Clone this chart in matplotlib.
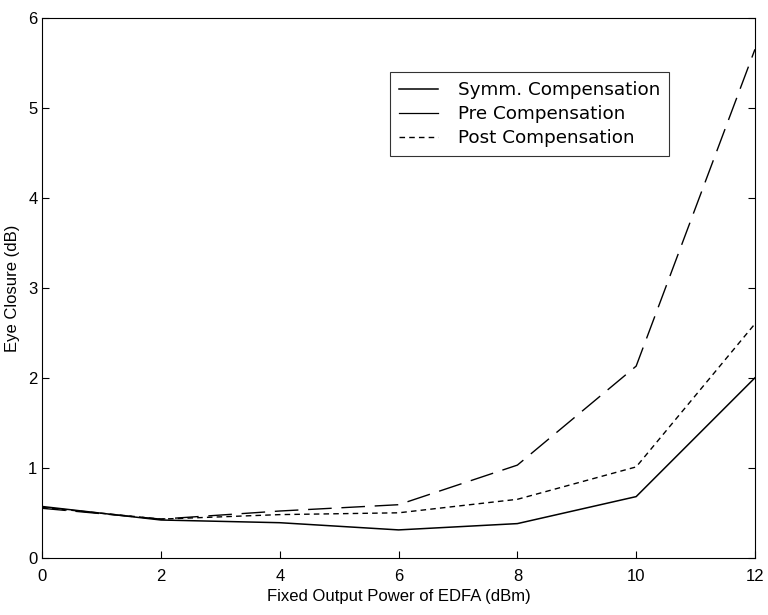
import matplotlib
matplotlib.use('Agg')
import matplotlib.pyplot as plt
from matplotlib.lines import Line2D

plt.rcParams['font.family'] = ['Liberation Sans', 'DejaVu Sans']

power = [0, 2, 4, 6, 8, 10, 12]
symm = [0.57, 0.42, 0.39, 0.31, 0.38, 0.68, 2.0]
pre = [0.55, 0.43, 0.52, 0.59, 1.03, 2.13, 5.65]
post = [0.56, 0.43, 0.48, 0.50, 0.65, 1.01, 2.6]

fig = plt.figure(figsize=(7.68, 6.15), dpi=100)
ax = fig.add_axes([0.055, 0.093, 0.928, 0.878])

ax.plot(power, symm, color='black', lw=1.1)
ax.plot(power, pre, color='black', lw=1.0, dashes=(17, 7))
ax.plot(power, post, color='black', lw=1.0, dashes=(4, 3))

ax.set_xlim(0, 12)
ax.set_ylim(0, 6)
ax.set_xticks(power)
ax.set_yticks([0, 1, 2, 3, 4, 5, 6])
ax.tick_params(direction='in', labelsize=12, length=5, top=False, right=True)
ax.tick_params(axis='x', pad=8)
ax.set_xlabel('Fixed Output Power of EDFA (dBm)', fontsize=12, labelpad=4)
ax.set_ylabel('Eye Closure (dB)', fontsize=12, labelpad=6)

handles = [Line2D([], [], color='black', lw=1.1),
           Line2D([], [], color='black', lw=0.9),
           Line2D([], [], color='black', lw=1.0, dashes=(4, 3))]
labels = ['Symm. Compensation', 'Pre Compensation', 'Post Compensation']
leg = ax.legend(handles, labels, loc='upper left', bbox_to_anchor=(0.488, 0.9),
                borderaxespad=0, prop={'family': 'DejaVu Sans', 'size': 13.2},
                frameon=True, fancybox=False, edgecolor='black', handlelength=2.1,
                handletextpad=1.1, borderpad=0.5, labelspacing=0.33)
leg.get_frame().set_linewidth(0.8)

fig.savefig('out.png', dpi=100)
